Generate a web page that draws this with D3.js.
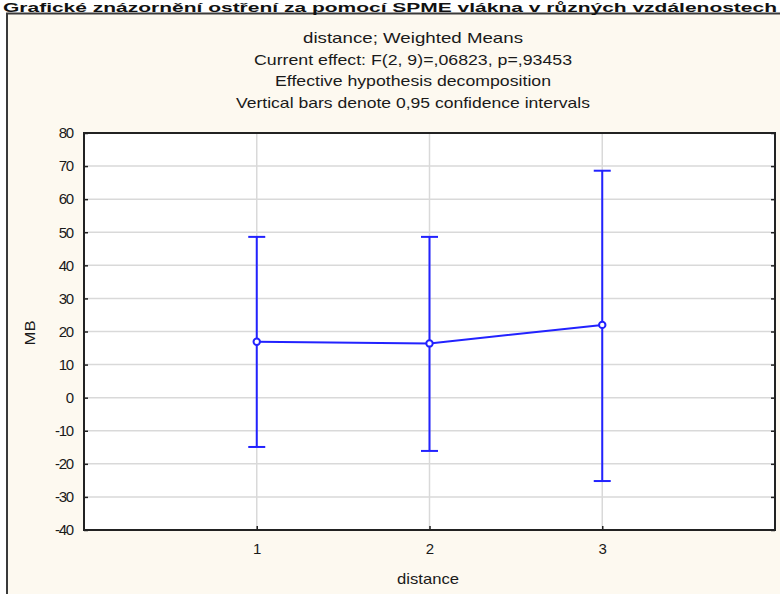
<!DOCTYPE html>
<html><head><meta charset="utf-8">
<script src="https://cdn.jsdelivr.net/npm/d3@7"></script>
<style>html,body{margin:0;padding:0;background:#fff;overflow:hidden}</style>
</head><body>
<svg id="c" width="780" height="594"></svg>
<script>
const categories = [1, 2, 3];
const means = [16.9, 16.4, 22.0];
const upper = [48.6, 48.6, 68.6];
const lower = [-14.9, -16.1, -25.2];
const yTicks = [80, 70, 60, 50, 40, 30, 20, 10, 0, -10, -20, -30, -40];
const titleLines = ["distance; Weighted Means", "Current effect: F(2, 9)=,06823, p=,93453", "Effective hypothesis decomposition", "Vertical bars denote 0,95 confidence intervals"];
const mainTitle = "Grafické znázornění ostření za pomocí SPME vlákna v různých vzdálenostech";

const svg = d3.select("#c");
const font = "Arial, 'Liberation Sans', sans-serif";
const L = 84, R = 775, T = 133, B = 530;
const x = d3.scaleLinear().domain([0, 4]).range([L, R]);
const y = d3.scaleLinear().domain([-40, 80]).range([B, T]);
const blue = "#2222ff";
const ink = "#1a1a1a";

// outer frame
svg.append("rect").attr("x", 7).attr("y", 13.5).attr("width", 800).attr("height", 600)
  .attr("fill", "#fdf9f0").attr("stroke", "#3a3a3a").attr("stroke-width", 2);
// main title
svg.append("text").attr("x", 390).attr("y", 11.5).attr("text-anchor", "middle")
  .attr("font-family", font).attr("font-weight", "bold").attr("font-size", 12.5).attr("fill", "#111")
  .attr("textLength", 774).attr("lengthAdjust", "spacingAndGlyphs").text(mainTitle);

// plot area
svg.append("rect").attr("x", L).attr("y", T).attr("width", R - L).attr("height", B - T).attr("fill", "#fff");

// gridlines
svg.append("g").selectAll("line").data(yTicks.filter(d => d > -40 && d < 80)).join("line")
  .attr("x1", L).attr("x2", R).attr("y1", d => y(d)).attr("y2", d => y(d))
  .attr("stroke", "#d9d9d9").attr("stroke-width", 1.5);
svg.append("g").selectAll("line").data(categories).join("line")
  .attr("x1", d => x(d)).attr("x2", d => x(d)).attr("y1", T).attr("y2", B)
  .attr("stroke", "#d9d9d9").attr("stroke-width", 1.5);

// axes
const yAxis = d3.axisLeft(y).tickValues(yTicks).tickSize(-4).tickPadding(11).tickFormat(d => String(d));
const gy = svg.append("g").attr("transform", `translate(${L},0)`).call(yAxis);
gy.select(".domain").remove();
gy.selectAll("text").attr("font-family", font).attr("font-size", 15).attr("fill", ink).attr("letter-spacing", "-1.2");
gy.selectAll(".tick line").attr("stroke", "#222").attr("stroke-width", 1.5);
const gy2 = svg.append("g").attr("transform", `translate(${R},0)`).call(d3.axisRight(y).tickValues(yTicks).tickSize(-4).tickFormat(""));
gy2.select(".domain").remove();
gy2.selectAll(".tick line").attr("stroke", "#222").attr("stroke-width", 1.5);

const xAxis = d3.axisBottom(x).tickValues(categories).tickSize(-4).tickPadding(13).tickFormat(d => String(d));
const gx = svg.append("g").attr("transform", `translate(0,${B})`).call(xAxis);
gx.select(".domain").remove();
gx.selectAll("text").attr("font-family", font).attr("font-size", 15).attr("fill", ink);
gx.selectAll(".tick line").attr("stroke", "#222").attr("stroke-width", 1.5);

svg.append("rect").attr("x", L).attr("y", T).attr("width", R - L).attr("height", B - T)
  .attr("fill", "none").attr("stroke", "#222").attr("stroke-width", 2);

// error bars
const data = categories.map((c, i) => ({c, m: means[i], u: upper[i], l: lower[i]}));
const eb = svg.append("g").attr("stroke", blue).attr("stroke-width", 2).attr("fill", "none");
eb.selectAll(".v").data(data).join("line").attr("x1", d => x(d.c)).attr("x2", d => x(d.c))
  .attr("y1", d => y(d.u)).attr("y2", d => y(d.l));
eb.selectAll(".cu").data(data).join("line").attr("x1", d => x(d.c) - 8.5).attr("x2", d => x(d.c) + 8.5)
  .attr("y1", d => y(d.u)).attr("y2", d => y(d.u));
eb.selectAll(".cl").data(data).join("line").attr("x1", d => x(d.c) - 8.5).attr("x2", d => x(d.c) + 8.5)
  .attr("y1", d => y(d.l)).attr("y2", d => y(d.l));
svg.append("path").datum(data).attr("fill", "none").attr("stroke", blue).attr("stroke-width", 2)
  .attr("d", d3.line().x(d => x(d.c)).y(d => y(d.m)));
svg.append("g").selectAll("circle").data(data).join("circle")
  .attr("cx", d => x(d.c)).attr("cy", d => y(d.m)).attr("r", 3.2)
  .attr("fill", "#fff").attr("stroke", blue).attr("stroke-width", 2);

// subtitle lines
const subW = [220, 318, 276, 354];
svg.append("g").selectAll("text").data(titleLines).join("text")
  .attr("x", 413).attr("y", (d, i) => 43 + i * 21.7).attr("text-anchor", "middle")
  .attr("font-family", font).attr("font-size", 14.5).attr("fill", ink)
  .attr("textLength", (d, i) => subW[i]).attr("lengthAdjust", "spacingAndGlyphs").text(d => d);

// axis titles
svg.append("text").attr("transform", "translate(35,333) rotate(-90)").attr("text-anchor", "middle")
  .attr("font-family", font).attr("font-size", 14).attr("fill", ink)
  .attr("textLength", 25).attr("lengthAdjust", "spacingAndGlyphs").text("MB");
svg.append("text").attr("x", 428).attr("y", 584).attr("text-anchor", "middle")
  .attr("font-family", font).attr("font-size", 15).attr("fill", ink)
  .attr("textLength", 62).attr("lengthAdjust", "spacingAndGlyphs").text("distance");
</script>
</body></html>
